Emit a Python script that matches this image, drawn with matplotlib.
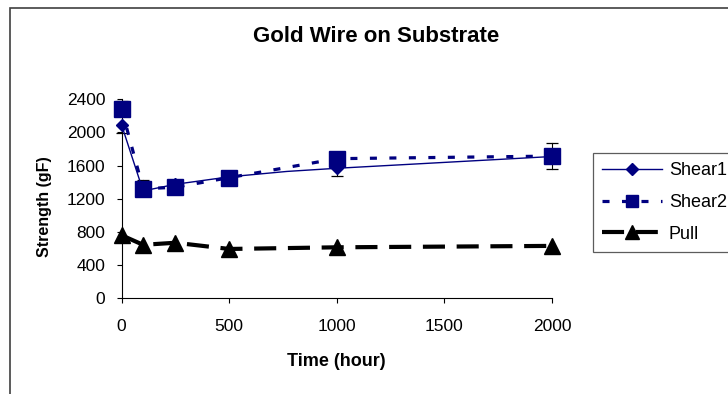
import matplotlib
matplotlib.use("Agg")
import matplotlib.pyplot as plt
from matplotlib.patches import Rectangle
from matplotlib.lines import Line2D

plt.rcParams['font.family'] = ['Liberation Sans', 'DejaVu Sans']

# Bond strength over aging time
time_shear1 = [0, 100, 250, 500, 768, 1000, 2000]
shear1 = [2090, 1295, 1375, 1465, 1530, 1568, 1710]
shear1_err_low = [100, 0, 0, 0, 0, 90, 0]
shear1_err_high = [0, 0, 0, 0, 0, 0, 0]
shear1_marked = [0, 1, 2, 3, 5, 6]

time_shear2 = [0, 100, 250, 500, 1000, 2000]
shear2 = [2280, 1320, 1340, 1455, 1684, 1715]
shear2_err_low = [0, 0, 0, 0, 0, 160]
shear2_err_high = [100, 110, 0, 0, 0, 160]

time_pull = [0, 100, 250, 500, 1000, 2000]
pull = [760, 645, 670, 595, 615, 632]

x_ticks = [0, 500, 1000, 1500, 2000]
y_ticks = [0, 400, 800, 1200, 1600, 2000, 2400]

NAVY = '#000080'

W, H = 728, 394
fig = plt.figure(figsize=(W / 100, H / 100), dpi=100)
fig.patch.set_facecolor('white')

# outer chart frame
fig.patches.append(Rectangle((10 / W, -0.05), 1.2, (1 - 8 / H) + 0.05,
                             transform=fig.transFigure, fill=False,
                             edgecolor='#404040', linewidth=1.2, zorder=0))

ax = fig.add_axes([121.6 / W, 1 - 298.3 / H, 430.4 / W, 199 / H])
ax.set_xlim(0, 2000)
ax.set_ylim(0, 2400)
for s in ('top', 'right'):
    ax.spines[s].set_visible(False)
for s in ('left', 'bottom'):
    ax.spines[s].set_linewidth(0.8)
    ax.spines[s].set_color('black')

ax.set_xticks(x_ticks)
ax.set_yticks(y_ticks)
ax.tick_params(axis='both', direction='out', length=3.6, width=0.8,
               labelsize=12.5, colors='black')
ax.tick_params(axis='x', pad=11)
ax.tick_params(axis='y', pad=8)


def draw_errorbars(xs, ys, lows, highs):
    for xi, yi, lo, hi in zip(xs, ys, lows, highs):
        for end in ([yi - lo] if lo > 0 else []) + ([yi + hi] if hi > 0 else []):
            ax.plot([xi, xi], [yi, end], color='black', lw=0.8,
                    clip_on=False, zorder=2)
            ax.plot([xi], [end], marker='_', ms=8, mew=0.9, color='black',
                    clip_on=False, zorder=2)


draw_errorbars(time_shear1, shear1, shear1_err_low, shear1_err_high)
draw_errorbars(time_shear2, shear2, shear2_err_low, shear2_err_high)

ax.plot(time_shear1, shear1, color=NAVY, lw=1.0, marker='D', ms=6,
        markevery=shear1_marked, clip_on=False, zorder=3, label='Shear1')
ax.plot(time_shear2, shear2, color=NAVY, lw=2.3, linestyle=(0, (2.2, 3.9)),
        dash_capstyle='butt', marker='s', ms=11, clip_on=False, zorder=4,
        label='Shear2')
ax.plot(time_pull, pull, color='black', lw=3.0, linestyle=(0, (5.3, 2.8)),
        dash_capstyle='butt', marker='^', ms=12, clip_on=False, zorder=4,
        label='Pull')

ax.set_xlabel('Time (hour)', fontsize=13, fontweight='bold')
ax.xaxis.set_label_coords(0.5, -(361.7 - 298.3) / 199, transform=ax.transAxes)
ax.xaxis.label.set_va('center')
ax.set_ylabel('Strength (gF)', fontsize=11.5, fontweight='bold')
ax.yaxis.set_label_coords((44.5 - 121.6) / 430.4, (298.3 - 207) / 199,
                          transform=ax.transAxes)
ax.yaxis.label.set_va('center')

fig.text(376 / W, 1 - 36 / H, 'Gold Wire on Substrate', fontsize=16,
         fontweight='bold', ha='center', va='center')

handles = [
    Line2D([], [], color=NAVY, lw=1.0, marker='D', ms=6),
    Line2D([], [], color=NAVY, lw=2.3, linestyle=(0, (2.2, 3.9)),
           dash_capstyle='butt', marker='s', ms=8),
    Line2D([], [], color='black', lw=3.0, linestyle=(0, (5.3, 2.8)),
           dash_capstyle='butt', marker='^', ms=10),
]
leg = fig.legend(handles, ['Shear1', 'Shear2', 'Pull'], loc='upper left',
                 bbox_to_anchor=(593 / W, 1 - 153 / H), fontsize=13,
                 frameon=True, fancybox=False, shadow=False,
                 handlelength=3.3, handletextpad=0.4, borderpad=0.5,
                 labelspacing=0.82, borderaxespad=0)
leg.get_frame().set_edgecolor('#333333')
leg.get_frame().set_linewidth(0.9)

fig.savefig('out.png', dpi=100)
